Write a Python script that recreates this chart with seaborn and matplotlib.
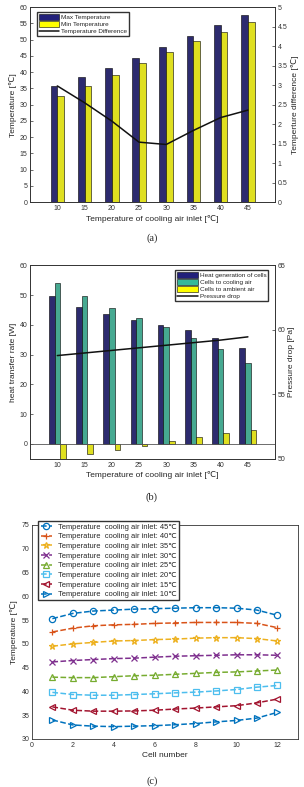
import numpy as np
import pandas as pd
import matplotlib
matplotlib.use('Agg')
import matplotlib.pyplot as plt
import seaborn as sns
from matplotlib.patches import Patch
from matplotlib.lines import Line2D

# (a) max / min temperature and difference
inlet = [10, 15, 20, 25, 30, 35, 40, 45]
max_temp = [35.7, 38.4, 41.2, 44.4, 47.7, 51.2, 54.5, 57.5]
min_temp = [32.6, 35.8, 39.2, 42.8, 46.1, 49.5, 52.4, 55.3]
temp_diff = [2.98, 2.55, 2.08, 1.54, 1.48, 1.84, 2.17, 2.36]

# (b) heat balance and pressure drop
heat_gen = [49.5, 46.0, 43.6, 41.7, 40.0, 38.1, 35.5, 32.2]
to_cooling = [54.0, 49.5, 45.7, 42.2, 39.2, 35.7, 31.8, 27.3]
to_ambient = [-4.9, -3.5, -2.0, -0.6, 1.0, 2.3, 3.6, 4.8]
pressure_drop = [58.0, 58.2, 58.4, 58.6, 58.8, 59.0, 59.2, 59.45]

# (c) cell temperatures
cells = [1, 2, 3, 4, 5, 6, 7, 8, 9, 10, 11, 12]
t45 = [55.3, 56.4, 56.9, 57.1, 57.3, 57.4, 57.5, 57.6, 57.6, 57.5, 57.1, 56.0]
t40 = [52.5, 53.3, 53.8, 54.0, 54.1, 54.3, 54.4, 54.5, 54.5, 54.5, 54.3, 53.4]
t35 = [49.5, 50.0, 50.3, 50.6, 50.7, 50.9, 51.0, 51.2, 51.3, 51.3, 51.1, 50.6]
t30 = [46.2, 46.5, 46.7, 46.9, 47.0, 47.2, 47.4, 47.5, 47.6, 47.7, 47.7, 47.6]
t25 = [43.0, 42.9, 42.9, 43.1, 43.3, 43.4, 43.6, 43.8, 44.0, 44.1, 44.3, 44.5]
t20 = [39.8, 39.35, 39.2, 39.2, 39.35, 39.5, 39.7, 39.85, 40.1, 40.4, 40.9, 41.25]
t15 = [36.75, 36.05, 35.85, 35.85, 35.9, 36.05, 36.3, 36.5, 36.75, 37.0, 37.6, 38.4]
t10 = [34.0, 32.95, 32.7, 32.6, 32.7, 32.8, 33.0, 33.25, 33.6, 33.9, 34.4, 35.6]

sns.set_style('white')
plt.rcParams['font.family'] = ['Liberation Sans', 'DejaVu Sans']
plt.rcParams['xtick.direction'] = 'in'
plt.rcParams['ytick.direction'] = 'in'
plt.rcParams['axes.edgecolor'] = '#333333'
plt.rcParams['axes.linewidth'] = 0.6

fs_tick = 5
fs_lab = 6
fs_leg = 4.6

fig = plt.figure(figsize=(3.04, 7.87), dpi=100)
ax_a = fig.add_axes([0.099, 0.743, 0.806, 0.248])
ax_b = fig.add_axes([0.099, 0.417, 0.806, 0.246])
ax_c = fig.add_axes([0.105, 0.061, 0.875, 0.272])

navy = '#22207a'
yellow = '#ffff00'
teal = '#35b99a'

# ---------- (a)
df_a = pd.DataFrame({'inlet': inlet * 2,
                     'val': max_temp + min_temp,
                     'series': ['Max Temperature'] * 8 + ['Min Temperature'] * 8})
sns.barplot(data=df_a, x='inlet', y='val', hue='series', native_scale=True,
            width=0.5, palette=[navy, yellow], edgecolor='black', linewidth=0.4,
            ax=ax_a, legend=False)
ax_a.set_xlim(5, 50)
ax_a.set_ylim(0, 60)
ax_a.set_yticks(range(0, 61, 5))
ax_a.set_xticks(inlet)
ax_a.set_xlabel('Temperature of cooling air inlet [℃]', fontsize=fs_lab, labelpad=2)
ax_a.set_ylabel('Temperature [℃]', fontsize=fs_lab, labelpad=2)
ax_a2 = ax_a.twinx()
sns.lineplot(x=inlet, y=temp_diff, color='#111111', linewidth=1.1, ax=ax_a2)
ax_a2.set_ylim(0, 5)
ax_a2.set_yticks(np.arange(0, 5.01, 0.5))
ax_a2.set_yticklabels(['0', '0.5', '1', '1.5', '2', '2.5', '3', '3.5', '4', '4.5', '5'])
ax_a2.set_ylabel('Temperture difference [℃]', fontsize=fs_lab, labelpad=2)
handles = [Patch(facecolor=navy, edgecolor='black', linewidth=0.4),
           Patch(facecolor=yellow, edgecolor='black', linewidth=0.4),
           Line2D([], [], color='#111111', linewidth=1.1)]
ax_a.legend(handles, ['Max Temperature', 'Min Temperature', 'Temperature Difference'],
            loc='upper left', fontsize=fs_leg, frameon=True, fancybox=False,
            edgecolor='#333333', framealpha=1, handlelength=3.2, handleheight=1.0,
            borderpad=0.3, labelspacing=0.15, handletextpad=0.3,
            bbox_to_anchor=(0.015, 0.99))

# ---------- (b)
df_b = pd.DataFrame({'inlet': inlet * 3,
                     'val': heat_gen + to_cooling + to_ambient,
                     'series': ['Heat generation of cells'] * 8 + ['Cells to cooling air'] * 8
                     + ['Cells to ambient air'] * 8})
sns.barplot(data=df_b, x='inlet', y='val', hue='series', native_scale=True,
            width=0.62, palette=[navy, teal, yellow], edgecolor='black', linewidth=0.4,
            ax=ax_b, legend=False)
ax_b.axhline(0, color='#555555', linewidth=0.6)
ax_b.set_xlim(5, 50)
ax_b.set_ylim(-5, 60)
ax_b.set_yticks(range(0, 61, 10))
ax_b.set_xticks(inlet)
ax_b.set_xlabel('Temperature of cooling air inlet [℃]', fontsize=fs_lab, labelpad=2)
ax_b.set_ylabel('heat transfer rate [W]', fontsize=fs_lab, labelpad=2)
ax_b2 = ax_b.twinx()
sns.lineplot(x=inlet, y=pressure_drop, color='#111111', linewidth=1.1, ax=ax_b2)
ax_b2.set_ylim(50, 65)
ax_b2.set_yticks([50, 55, 60, 65])
ax_b2.set_ylabel('Pressure drop [Pa]', fontsize=fs_lab, labelpad=2)
handles = [Patch(facecolor=navy, edgecolor='black', linewidth=0.4),
           Patch(facecolor=teal, edgecolor='black', linewidth=0.4),
           Patch(facecolor=yellow, edgecolor='black', linewidth=0.4),
           Line2D([], [], color='#111111', linewidth=1.1)]
ax_b.legend(handles, ['Heat generation of cells', 'Cells to cooling air',
                      'Cells to ambient air', 'Pressure drop'],
            loc='upper right', fontsize=fs_leg, frameon=True, fancybox=False,
            edgecolor='#333333', framealpha=1, handlelength=3.2, handleheight=1.0,
            borderpad=0.3, labelspacing=0.15, handletextpad=0.3,
            bbox_to_anchor=(0.985, 0.99))

# ---------- (c)
series_c = [(t45, '45', '#0072BD', 'o'), (t40, '40', '#D95319', '+'),
            (t35, '35', '#EDB120', '*'), (t30, '30', '#7E2F8E', 'x'),
            (t25, '25', '#77AC30', '^'), (t20, '20', '#4DBEEE', 's'),
            (t15, '15', '#A2142F', '<'), (t10, '10', '#0072BD', '>')]
for vals, lab, col, mk in series_c:
    sns.lineplot(x=cells, y=vals, ax=ax_c, color=col, marker=mk, linestyle='--',
                 linewidth=1.1, markersize=4.5, markerfacecolor='none',
                 markeredgecolor=col, markeredgewidth=0.9,
                 label='Temperature  cooling air inlet: %s℃' % lab)
ax_c.set_xlim(0, 13)
ax_c.set_ylim(30, 75)
ax_c.set_xticks(range(0, 13, 2))
ax_c.set_yticks(range(30, 76, 5))
ax_c.set_xlabel('Cell number', fontsize=fs_lab, labelpad=2)
ax_c.set_ylabel('Temperature [℃]', fontsize=fs_lab, labelpad=2)
ax_c.legend(loc='upper left', fontsize=5.4, frameon=True, fancybox=False,
            edgecolor='#333333', framealpha=1, handlelength=1.5,
            borderpad=0.3, labelspacing=0.32, handletextpad=0.8,
            bbox_to_anchor=(0.01, 1.035))

for ax in [ax_a, ax_a2, ax_b, ax_b2, ax_c]:
    ax.tick_params(labelsize=fs_tick, length=2, width=0.5, pad=2, colors='#333333')
    for sp in ax.spines.values():
        sp.set_visible(True)

fig.text(0.5, 1 - 238 / 787, '(a)', ha='center', va='center', fontsize=7.5,
         family='Liberation Serif')
fig.text(0.5, 1 - 497 / 787, '(b)', ha='center', va='center', fontsize=7.5,
         family='Liberation Serif')
fig.text(0.5, 1 - 781 / 787, '(c)', ha='center', va='center', fontsize=7.5,
         family='Liberation Serif')

fig.savefig('out.png', dpi=100)
